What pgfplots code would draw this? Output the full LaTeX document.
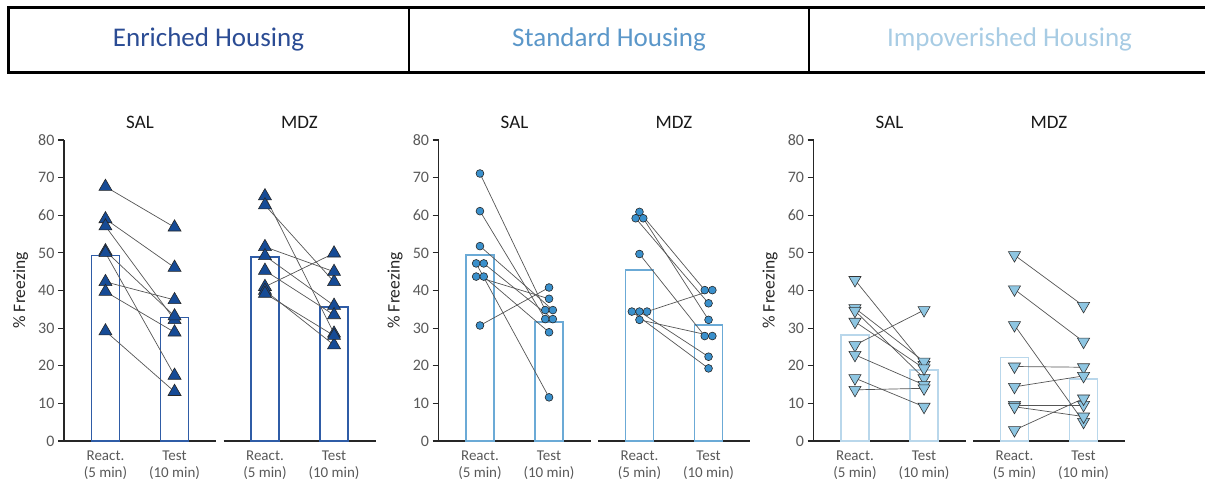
\documentclass[border=0pt]{standalone}
\usepackage{pgfplots}
\pgfplotsset{compat=1.18}
\usepackage{pgfplotstable}
\usepackage{fontspec}
\setmainfont{Carlito}

\definecolor{eText}{RGB}{43,76,148}
\definecolor{sText}{RGB}{91,151,201}
\definecolor{iText}{RGB}{168,204,228}
\definecolor{eMark}{RGB}{22,75,150}
\definecolor{sMark}{RGB}{58,144,204}
\definecolor{iMark}{RGB}{142,198,226}
\definecolor{eBar}{RGB}{47,92,166}
\definecolor{sBar}{RGB}{107,170,214}
\definecolor{iBar}{RGB}{185,215,235}
\definecolor{tickgray}{RGB}{89,89,89}
\definecolor{axisgray}{RGB}{38,38,38}
\definecolor{linegray}{RGB}{85,85,85}

% Enriched housing
\pgfplotstableread{
xr yr xt yt
0 67.6 1 56.8
0 59.0 1 46.1
0 57.1 1 32.2
0 50.5 1 33.2
0 50.0 1 17.4
0 42.3 1 37.5
0 39.7 1 28.9
0 29.2 1 13.1
}\ESAL
\pgfplotstableread{
xr yr xt yt
0 65.1 1 28.6
0 62.7 1 42.3
0 51.6 1 45.0
0 49.2 1 36.0
0 45.3 1 33.5
0 41.0 1 49.9
0 40.0 1 25.5
0 39.2 1 28.0
}\EMDZ
% Standard housing
\pgfplotstableread{
xr yr xt yt
0 71.1 0.945 34.8
0 61.1 0.945 32.4
0 51.8 1.055 34.8
-0.055 47.2 1 11.6
0.055 47.2 1.055 32.4
-0.055 43.7 1 37.8
0.055 43.7 1 28.9
0 30.7 1 40.8
}\SSAL
\pgfplotstableread{
xr yr xt yt
0 60.9 0.945 40.1
-0.055 59.2 1 36.6
0.055 59.2 1 32.2
0 49.7 0.945 27.9
0.11 34.4 1.055 40.1
0 34.4 1 22.4
-0.11 34.4 1 19.3
0 32.2 1.055 27.9
}\SMDZ
% Impoverished housing
\pgfplotstableread{
xr yr xt yt
0 42.8 1 20.2
0 35.3 1 21.1
0 34.6 1 16.7
0 31.7 1 19.3
0 25.5 1 34.8
0 22.9 1 14.9
0 16.7 1 9.1
0 13.6 1 14.0
}\ISAL
\pgfplotstableread{
xr yr xt yt
0 49.4 1 35.9
0 40.3 1 26.4
0 30.8 1 5.1
0 19.8 1 19.6
0 14.4 1 17.3
0 9.6 1 9.6
0 9.1 1 6.5
0 2.9 1 11.3
}\IMDZ

\pgfplotsset{
  panel/.style={
    scale only axis, width=152pt, height=301pt,
    anchor=south west,
    xmin=-0.6, xmax=1.6, ymin=0, ymax=80,
    axis x line*=bottom,
    axis line style={draw=axisgray, line width=1.2pt},
    xtick={0,1},
    xticklabels={{React.\\(5 min)},{Test\\(10 min)}},
    x tick label style={align=center, font=\fontsize{15}{17}\selectfont, text=tickgray},
    x tick style={draw=none},
    tick align=outside,
    major tick length=6pt,
    y tick style={draw=axisgray, line width=1.2pt},
    y tick label style={font=\fontsize{16}{19}\selectfont, text=tickgray},
    /pgf/number format/assume math mode=true,
    title style={at={(axis description cs:0.5,1)}, anchor=base, yshift=6pt,
      font=\fontsize{19}{22}\selectfont, text=black!90},
    clip=false,
  },
  salpanel/.style={panel, title={SAL},
    axis y line*=left, ytick={0,10,...,80},
    ylabel={\% Freezing},
    ylabel style={at={(axis description cs:-0.285,0.5)}, anchor=center,
      font=\fontsize{17.5}{20}\selectfont, text=black!85},
  },
  mdzpanel/.style={panel, title={MDZ}, axis y line=none, ytick=\empty},
  pairlines/.style={no markers,
    quiver={u=\thisrow{xt}-\thisrow{xr}, v=\thisrow{yt}-\thisrow{yr},
      every arrow/.append style={draw=linegray, line width=0.7pt}},
    draw=linegray, line width=0.7pt},
  barplot/.style={ybar, bar width=28pt, bar shift=0pt, fill=white, draw=#1, line width=1.8pt},
  etri/.style={only marks, mark=triangle*, mark size=7.5pt,
    mark options={fill=eMark, draw=black!85, line width=0.6pt}},
  scirc/.style={only marks, mark=*, mark size=3.9pt,
    mark options={fill=sMark, draw=black!85, line width=0.6pt}},
  itri/.style={only marks, mark=triangle*, mark size=7pt,
    mark options={rotate=180, fill=iMark, draw=black!80, line width=0.6pt}},
}

\begin{document}
\begin{tikzpicture}
\useasboundingbox (0pt,0pt) rectangle (1205pt,479pt);

% header boxes
\draw[line width=3pt] (8pt,406pt) rectangle (1214pt,471pt);
\draw[line width=2pt] (409pt,406pt) -- (409pt,471pt);
\draw[line width=2pt] (809pt,406pt) -- (809pt,471pt);
\node[anchor=base, font=\fontsize{27}{32}\selectfont, text=eText] at (208.5pt,432pt) {Enriched Housing};
\node[anchor=base, font=\fontsize{27}{32}\selectfont, text=sText] at (609pt,432pt) {Standard Housing};
\node[anchor=base, font=\fontsize{27}{32}\selectfont, text=iText] at (1009.5pt,432pt) {Impoverished Housing};

% ---------- Enriched ----------
\begin{axis}[salpanel, at={(64pt,38pt)}]
\addplot[barplot=eBar] coordinates {(0,49.3) (1,32.8)};
\addplot[pairlines] table[x=xr,y=yr] {\ESAL};
\addplot[etri] table[x=xr,y=yr] {\ESAL};
\addplot[etri] table[x=xt,y=yt] {\ESAL};
\end{axis}
\begin{axis}[mdzpanel, at={(223.5pt,38pt)}]
\addplot[barplot=eBar] coordinates {(0,48.8) (1,35.7)};
\addplot[pairlines] table[x=xr,y=yr] {\EMDZ};
\addplot[etri] table[x=xr,y=yr] {\EMDZ};
\addplot[etri] table[x=xt,y=yt] {\EMDZ};
\end{axis}

% ---------- Standard ----------
\begin{axis}[salpanel, at={(438.5pt,38pt)}]
\addplot[barplot=sBar] coordinates {(0,49.4) (1,31.7)};
\addplot[pairlines] table[x=xr,y=yr] {\SSAL};
\addplot[scirc] table[x=xr,y=yr] {\SSAL};
\addplot[scirc] table[x=xt,y=yt] {\SSAL};
\end{axis}
\begin{axis}[mdzpanel, at={(598pt,38pt)}]
\addplot[barplot=sBar] coordinates {(0,45.4) (1,30.8)};
\addplot[pairlines] table[x=xr,y=yr] {\SMDZ};
\addplot[scirc] table[x=xr,y=yr] {\SMDZ};
\addplot[scirc] table[x=xt,y=yt] {\SMDZ};
\end{axis}

% ---------- Impoverished ----------
\begin{axis}[salpanel, at={(813.5pt,38pt)}]
\addplot[barplot=iBar] coordinates {(0,28.2) (1,18.9)};
\addplot[pairlines] table[x=xr,y=yr] {\ISAL};
\addplot[itri] table[x=xr,y=yr] {\ISAL};
\addplot[itri] table[x=xt,y=yt] {\ISAL};
\end{axis}
\begin{axis}[mdzpanel, at={(973pt,38pt)}]
\addplot[barplot=iBar] coordinates {(0,22.2) (1,16.4)};
\addplot[pairlines] table[x=xr,y=yr] {\IMDZ};
\addplot[itri] table[x=xr,y=yr] {\IMDZ};
\addplot[itri] table[x=xt,y=yt] {\IMDZ};
\end{axis}
\end{tikzpicture}
\end{document}
